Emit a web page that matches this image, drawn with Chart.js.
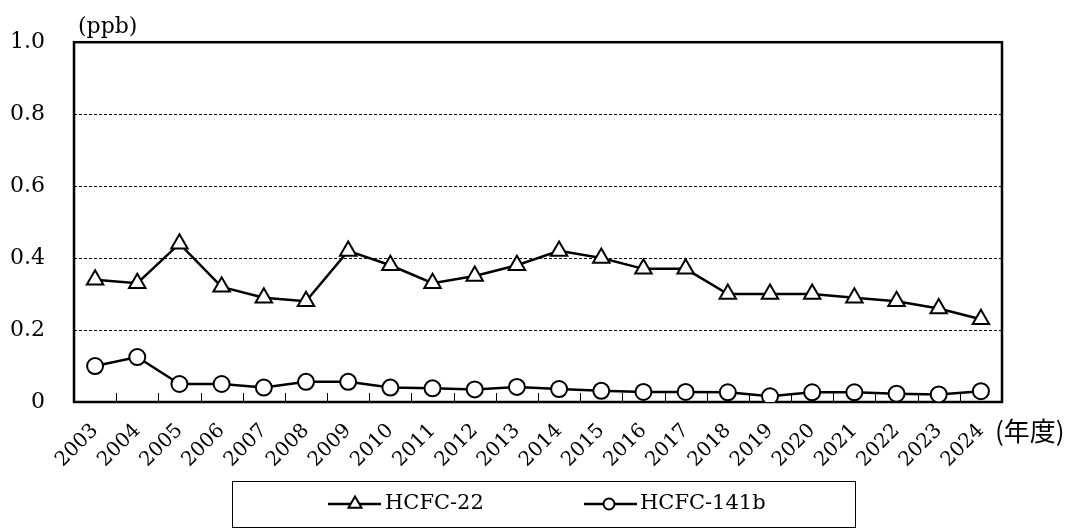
<!DOCTYPE html>
<html>
<head>
<meta charset="utf-8">
<script src="https://cdn.jsdelivr.net/npm/chart.js@4/dist/chart.umd.min.js"></script>
<style>
html,body{margin:0;padding:0;background:#fff;}
#wrap{width:1075px;height:528px;position:relative;}
</style>
</head>
<body>
<div id="wrap"><canvas id="c" width="1075" height="528"></canvas></div>
<script>
const years = ['2003','2004','2005','2006','2007','2008','2009','2010','2011','2012','2013','2014','2015','2016','2017','2018','2019','2020','2021','2022','2023','2024'];
const hcfc22 = [0.34,0.33,0.44,0.32,0.29,0.28,0.42,0.38,0.33,0.35,0.38,0.42,0.40,0.37,0.37,0.30,0.30,0.30,0.29,0.28,0.26,0.23];
const hcfc141b = [0.100,0.125,0.050,0.050,0.040,0.056,0.056,0.040,0.038,0.035,0.042,0.036,0.031,0.028,0.028,0.027,0.016,0.027,0.027,0.023,0.021,0.030];
const seriesNames = ['HCFC-22','HCFC-141b'];
const yTicks = [0,0.2,0.4,0.6,0.8,1.0];
const yUnit = '(ppb)';
const xUnit = '(年度)';

const FONT = "'DejaVu Serif','Noto Sans CJK JP',serif";

const decor = {
  id:'decor',
  beforeDatasetsDraw(chart){
    const {ctx, chartArea:a, scales:{x}} = chart;
    ctx.save();
    ctx.strokeStyle='#000';
    ctx.lineWidth=1;
    for(let i=1;i<years.length;i++){
      const px = Math.round((x.getPixelForValue(i-1)+x.getPixelForValue(i))/2)+0.5;
      ctx.beginPath();ctx.moveTo(px,a.bottom);ctx.lineTo(px,a.bottom-9);ctx.stroke();
    }
    ctx.lineWidth=2.5;
    ctx.strokeRect(a.left,a.top,a.right-a.left,a.bottom-a.top);
    ctx.restore();
  },
  afterDraw(chart){
    const {ctx, chartArea:a} = chart;
    ctx.save();
    ctx.fillStyle='#000';
    ctx.font="22px "+FONT;
    ctx.textBaseline='alphabetic';
    ctx.textAlign='left';
    ctx.fillText(yUnit, a.left+4, a.top-9);
    ctx.font="26px 'Noto Sans CJK JP',"+FONT;
    ctx.textBaseline='middle';
    ctx.fillText(xUnit, a.right-7, a.bottom+29);
    // legend
    ctx.strokeStyle='#000';
    ctx.lineWidth=1;
    ctx.strokeRect(232.5,481.5,623,46);
    const items=[{x0:328,x1:381,cx:355,tx:385,style:'tri'},{x0:584,x1:637,cx:609,tx:640,style:'circ'}];
    const ly=504;
    items.forEach((it,i)=>{
      ctx.strokeStyle='#000';
      ctx.lineWidth=2.5;
      ctx.beginPath();ctx.moveTo(it.x0,ly);ctx.lineTo(it.x1,ly);ctx.stroke();
      const cx=it.cx;
      ctx.fillStyle='#fff';ctx.lineWidth=2;
      ctx.beginPath();
      if(it.style==='tri'){
        const r=7.5;
        ctx.moveTo(cx,ly-r);ctx.lineTo(cx+r*0.866,ly+r*0.5);ctx.lineTo(cx-r*0.866,ly+r*0.5);ctx.closePath();
      }else{
        ctx.arc(cx,ly,5.5,0,Math.PI*2);
      }
      ctx.fill();ctx.stroke();
      ctx.fillStyle='#000';
      ctx.font="21px "+FONT;
      ctx.textAlign='left';ctx.textBaseline='middle';
      ctx.fillText(seriesNames[i], it.tx, ly);
    });
    ctx.restore();
  }
};

new Chart(document.getElementById('c'),{
  type:'line',
  data:{
    labels:years,
    datasets:[
      {label:seriesNames[0],data:hcfc22,borderColor:'#000',borderWidth:2.5,backgroundColor:'#fff',
       pointStyle:'triangle',pointRadius:9.5,pointHoverRadius:9.5,pointBorderWidth:2,pointBackgroundColor:'#fff',pointBorderColor:'#000',tension:0},
      {label:seriesNames[1],data:hcfc141b,borderColor:'#000',borderWidth:2.5,backgroundColor:'#fff',
       pointStyle:'circle',pointRadius:8,pointHoverRadius:8,pointBorderWidth:2,pointBackgroundColor:'#fff',pointBorderColor:'#000',tension:0}
    ]
  },
  options:{
    responsive:false,
    animation:false,
    events:[],
    layout:{padding:{left:0,right:73,top:41,bottom:0}},
    plugins:{legend:{display:false},tooltip:{enabled:false},title:{display:false}},
    scales:{
      x:{
        type:'category',
        offset:true,
        grid:{display:false,drawTicks:false},
        border:{display:false},
        ticks:{autoSkip:false,minRotation:45,maxRotation:45,padding:17,color:'#000',font:{family:FONT,size:20}},
        afterFit(s){s.height=126;}
      },
      y:{
        min:0,max:1,
        afterBuildTicks(s){s.ticks=yTicks.map(v=>({value:v}));},
        grid:{drawTicks:false,color:(c)=>(c.tick && c.tick.value>0.01 && c.tick.value<0.99)?'#000':'rgba(0,0,0,0)',lineWidth:1},
        border:{display:false,dash:[3,2]},
        ticks:{padding:29,color:'#000',font:{family:FONT,size:22},callback:(v)=>v===0?'0':Number(v).toFixed(1)},
        afterFit(s){s.width=74;}
      }
    }
  },
  plugins:[decor]
});
</script>
</body>
</html>
